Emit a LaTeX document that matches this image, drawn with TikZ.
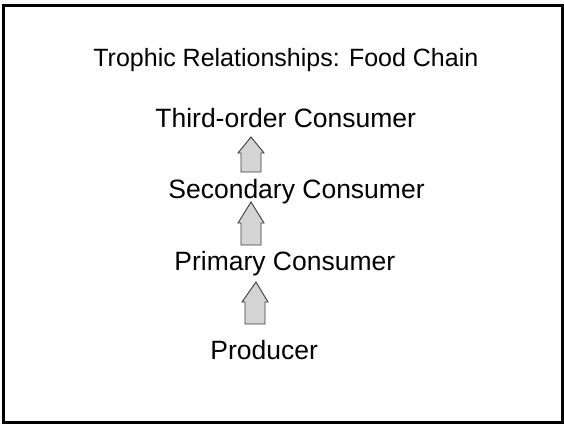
\documentclass[tikz,border=0pt]{standalone}
\usepackage{fontspec}
\setmainfont{Liberation Sans}
\definecolor{arrowfill}{RGB}{212,212,212}
\definecolor{arrowline}{RGB}{60,60,60}
\tikzset{every picture/.style={line width=0.75pt}}
\tikzset{
  blockarrow/.style={draw=arrowline, fill=arrowfill, line width=0.9pt, line join=miter},
  levelname/.style={anchor=base west, inner sep=0pt, font=\fontsize{26.5}{30}\selectfont},
}

\begin{document}
\begin{tikzpicture}[x=1pt,y=1pt,yscale=-1,xscale=1]
\useasboundingbox (0,0) rectangle (564,424);

%Shape: Frame
\draw [line width=3pt]  (3.5,5) -- (562.5,5) -- (562.5,422.5) -- (3.5,422.5) -- cycle ;

%Shape: Up Arrow [Producer -> Primary]
\draw [blockarrow]  (245,324) -- (245,302) -- (242,302) -- (256,282) -- (268,302) -- (265,302) -- (265,324) -- cycle ;
%Shape: Up Arrow [Primary -> Secondary]
\draw [blockarrow]  (241,245) -- (241,223) -- (238,223) -- (251,202) -- (264,223) -- (261,223) -- (261,245) -- cycle ;
%Shape: Up Arrow [Secondary -> Third-order]
\draw [blockarrow]  (241,172) -- (241,153) -- (238,153) -- (251,137) -- (264,153) -- (261,153) -- (261,172) -- cycle ;

% Text Node
\draw (93,66) node (title) [anchor=base west][inner sep=0pt] [font=\fontsize{25}{29}\selectfont] {Trophic Relationships: Food Chain};
% Text Node
\draw (155,127) node (third) [levelname] {Third-order Consumer};
% Text Node
\draw (168,198) node (secondary) [levelname] {Secondary Consumer};
% Text Node
\draw (174,270) node (primary) [levelname] {Primary Consumer};
% Text Node
\draw (210,359) node (producer) [levelname] {Producer};

\end{tikzpicture}
\end{document}
